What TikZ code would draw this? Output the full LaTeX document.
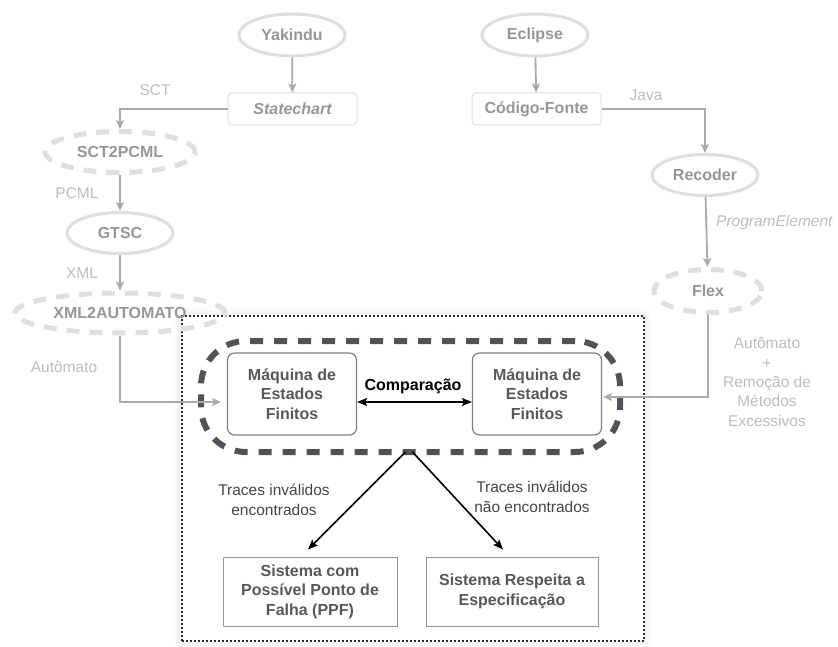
\documentclass[tikz,border=0pt]{standalone}
\usepackage{fontspec}
\setmainfont{Liberation Sans}
\usetikzlibrary{shapes.geometric,arrows.meta,shadows.blur}

\definecolor{nodeline}{RGB}{222,222,222}
\definecolor{nodetext}{RGB}{150,150,150}
\definecolor{flowgray}{RGB}{170,170,170}
\definecolor{labelgray}{RGB}{188,188,188}
\definecolor{dashgray}{RGB}{221,223,225}
\definecolor{dashdark}{RGB}{80,84,90}
\definecolor{boxline}{RGB}{128,128,128}
\definecolor{resline}{RGB}{150,150,150}
\definecolor{boxtext}{RGB}{88,88,88}
\definecolor{tracetext}{RGB}{70,70,70}
\definecolor{framecol}{RGB}{45,45,45}

\tikzset{
  boldtext/.style={font=\bfseries\fontsize{16}{19.5}\selectfont},
  tool/.style={ellipse, draw=nodeline, line width=3pt, text=nodetext,
    boldtext, inner sep=0pt},
  transform/.style={ellipse, draw=dashgray, line width=5pt,
    dash pattern=on 13pt off 10pt, text=nodetext, boldtext, inner sep=0pt},
  artifact/.style={rectangle, rounded corners=4pt, draw=nodeline,
    line width=1pt, text=nodetext, boldtext, minimum width=129pt,
    minimum height=32pt, inner sep=0pt},
  fsm/.style={rectangle, rounded corners=7pt, draw=boxline, line width=1.2pt,
    text=boxtext, boldtext, align=center, minimum width=129pt,
    minimum height=82pt, inner sep=0pt},
  result/.style={rectangle, draw=resline, line width=1pt, text=boxtext,
    boldtext, align=center, minimum height=69pt, inner sep=0pt},
  flow/.style={draw=flowgray, line width=1.8pt,
    -{Stealth[length=9pt,width=8pt,inset=2pt]}},
  outcome/.style={draw=black, line width=1.6pt,
    -{Stealth[length=10pt,width=8pt,inset=2pt]}},
  lbl/.style={text=labelgray, font=\fontsize{15.5}{19.3}\selectfont,
    align=center, inner sep=0pt},
  tracelbl/.style={text=tracetext, font=\fontsize{15.5}{19.3}\selectfont,
    align=center, inner sep=0pt},
}

\begin{document}
\begin{tikzpicture}[x=1pt,y=-1pt]
  \useasboundingbox (0,0) rectangle (838,647);

  % verification frame with its soft halo
  \node (frame) [draw=framecol, fill=white, line width=2pt,
    dash pattern=on 2pt off 2pt, minimum width=462pt, minimum height=325pt,
    blur shadow={shadow xshift=0pt, shadow yshift=0pt,
      shadow blur radius=9pt, shadow opacity=14}] at (413,478.5) {};

  % left chain: Yakindu statechart to automaton
  \node (yak) [tool, minimum width=106pt, minimum height=42pt] at (292,35) {Yakindu};
  \node (stc) [artifact] at (292.5,109) {\itshape Statechart};
  \node (sct) [transform, minimum width=150pt, minimum height=41pt] at (120,152) {SCT2PCML};
  \node (gtsc) [tool, minimum width=106pt, minimum height=41pt] at (120,233) {GTSC};
  \node (x2a) [transform, minimum width=210pt, minimum height=40pt] at (120,313) {XML2AUTOMATO};

  % right chain: Java sources to automaton
  \node (ecl) [tool, minimum width=106pt, minimum height=42pt] at (535,35) {Eclipse};
  \node (cod) [artifact] at (536.5,109) {Código-Fonte};
  \node (rec) [tool, minimum width=106pt, minimum height=41pt] at (705,175) {Recoder};
  \node (flex) [transform, minimum width=108pt, minimum height=43pt] at (708,291) {Flex};

  % comparison block
  \node (cmp) [draw=dashdark, line width=6pt, dash pattern=on 13pt off 11pt,
    rounded corners=45pt, minimum width=419pt, minimum height=111pt] at (410.5,396.5) {};
  \node (fsmL) [fsm] at (292,394) {Máquina de\\Estados\\Finitos};
  \node (fsmR) [fsm] at (537,394) {Máquina de\\Estados\\Finitos};
  \node (cmplbl) [boldtext, text=black, inner sep=0pt] at (413,386) {Comparação};

  % outcomes
  \node (ppf) [result, minimum width=174pt] at (310,591.5)
    {Sistema com\\Possível Ponto de\\Falha (PPF)};
  \node (spec) [result, minimum width=172pt] at (512,591.5)
    {Sistema Respeita a\\Especificação};

  % connectors of the left chain
  \draw[flow] (yak) -- (stc);
  \draw[flow] (stc.west) -| (sct.north);
  \draw[flow] (sct) -- (gtsc);
  \draw[flow] (gtsc) -- (x2a);
  \draw[flow, line width=1.5pt, shorten >=6pt] (x2a.south) |- ([yshift=-8pt]fsmL.west);

  % connectors of the right chain
  \draw[flow] (ecl) -- (cod);
  \draw[flow] (cod.east) -| (rec.north);
  \draw[flow] (rec) -- (flex);
  \draw[flow, line width=1.5pt, shorten >=1pt] (flex.south) |- ([yshift=-3pt]fsmR.east);

  % comparison and its results
  \draw[outcome, {Stealth[length=10pt,width=8pt,inset=2pt]}-{Stealth[length=10pt,width=8pt,inset=2pt]}]
    ([yshift=-8pt]fsmL.east) -- ([yshift=-8pt]fsmR.west);
  \draw[outcome] ([xshift=-5pt,yshift=3pt]cmp.south) -- ([xshift=-2pt,yshift=7pt]ppf.north);
  \draw[outcome] ([xshift=2pt,yshift=3pt]cmp.south) -- ([xshift=-9pt,yshift=7pt]spec.north);

  % connector labels
  \node (lsct) [lbl] at (155,90) {SCT};
  \node (lpcml) [lbl] at (77,193) {PCML};
  \node (lxml) [lbl] at (82,273) {XML};
  \node (laut) [lbl] at (64,367) {Autômato};
  \node (ljava) [lbl] at (646,95) {Java};
  \node (lpe) [lbl, anchor=west] at (716,222) {\itshape ProgramElement};
  \node (lrem) [lbl] at (767,382) {Autômato\\+\\Remoção de\\Métodos\\Excessivos};
  \node (ltr1) [tracelbl] at (274,500) {Traces inválidos\\encontrados};
  \node (ltr2) [tracelbl] at (532,497) {Traces inválidos\\não encontrados};
\end{tikzpicture}
\end{document}
